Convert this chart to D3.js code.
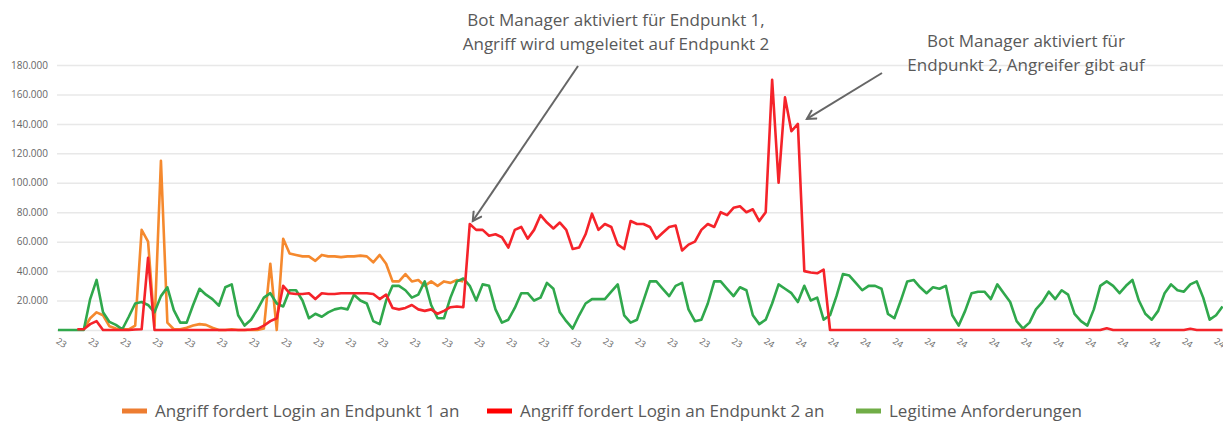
<!DOCTYPE html>
<html>
<head>
<meta charset="utf-8">
<script src="https://cdnjs.cloudflare.com/ajax/libs/d3/7.8.5/d3.min.js"></script>
<style>
  body { margin: 0; background: #fff; }
  text { font-family: "Open Sans", sans-serif; }
</style>
</head>
<body>
<script>
// Werte in Tausend Anfragen, ein Punkt je Messintervall
const angriffEndpunkt1 = [
  null, null, null, null, 0.5, 8, 12, 10, 2.5, 1,
  0.5, 0.5, 3, 68, 60, 3, 115, 5, 0.5, 0.5,
  1.5, 3, 4, 3.5, 1.5, 0, 0, 0.5, 0, 0,
  0, 0, 1, 45, 0, 62, 52, 51, 50, 50,
  47, 51, 50, 50, 49.5, 50, 50, 50.5, 50, 46,
  51, 45, 33, 33, 38, 33, 34, 30, 33, 30,
  33, 32, 34, 33
];

const angriffEndpunkt2 = [
  null, null, null, 0.5, 0.5, 4, 6, 0, 0, 0,
  0, 0, 0.3, 0.5, 49, 0, 0, 0, 0, 0,
  0, 0, 0, 0, 0, 0, 0, 0, 0, 0,
  0.3, 0.8, 3, 6, 8, 30, 25, 24.5, 24.5, 25,
  21, 25, 24.5, 24.5, 25, 25, 25, 25, 25, 24.5,
  21, 24, 15, 14, 15, 17, 14, 13, 14, 11,
  13, 15.5, 16, 15.5, 72, 68, 68, 64, 65, 63,
  56, 68, 70, 62, 68, 78, 73, 69, 73, 68,
  55, 56, 65, 79, 68, 72, 70, 58, 55, 74,
  72, 72, 70, 62, 66, 70, 71, 54, 58, 60,
  68, 72, 70, 80, 78, 83, 84, 80, 82, 74,
  80, 170, 100, 158, 135, 140, 40, 39, 38.5, 41,
  0, 0, 0, 0, 0, 0, 0, 0, 0, 0,
  0, 0, 0, 0, 0, 0, 0, 0, 0, 0,
  0, 0, 0, 0, 0, 0, 0, 0, 0, 0,
  0, 0, 0, 0, 0, 0, 0, 0, 0, 0,
  0, 0, 0, 1.2, 0, 0, 0, 0, 0, 0,
  0, 0, 0, 0, 0, 0, 0.8, 0, 0, 0,
  0, 0
];

const legitim = [
  0, 0, 0, 0, 0, 21, 34, 12, 5.5, 3.5,
  0.5, 9, 18, 19, 17, 12, 23, 29, 13.5, 5,
  5, 17, 28, 24, 21, 16.5, 29, 31, 10, 3,
  7, 14, 22, 25, 18, 16, 27, 27, 20, 8,
  11, 9, 12, 14, 15, 14, 24, 20, 18, 6,
  4, 20, 30, 30, 27, 22, 24, 33, 17, 8,
  8, 22, 33, 35, 30, 20, 31, 30, 14, 5,
  7, 15, 25, 25, 20, 22, 32, 28, 12, 6,
  1, 10, 18, 21, 21, 21, 26, 31, 10, 5,
  7, 20, 33, 33, 28, 23, 30, 32, 14, 6,
  7, 18, 33, 33, 28, 23, 29, 27, 10, 4,
  7, 18, 31, 28, 25, 19, 30, 20, 22, 7,
  10, 23, 38, 37, 32, 27, 30, 30, 28, 11,
  8, 20, 33, 34, 29, 25, 29, 28, 30, 10,
  3, 13, 25, 26, 26, 21, 31, 25, 19, 6,
  1, 5, 14, 19, 26, 21, 27, 24, 11, 6,
  3, 14, 30, 33, 30, 25, 30, 34, 20, 11,
  7, 13, 25, 31, 27, 26, 31, 33, 22, 7,
  10, 16
];

const yTicks = [0, 20, 40, 60, 80, 100, 120, 140, 160, 180];

// Achsenbeschriftungen (im Original kaum lesbar)
const xLabels = [
  "23", "23", "23", "23", "23", "23", "23", "23", "23", "23",
  "23", "23", "23", "23", "23", "23", "23", "23", "23", "23",
  "23", "23", "24", "24", "24", "24", "24", "24", "24", "24",
  "24", "24", "24", "24", "24", "24", "24"
];

const legendNames = [
  "Angriff fordert Login an Endpunkt 1 an",
  "Angriff fordert Login an Endpunkt 2 an",
  "Legitime Anforderungen"
];

const annotation1 = ["Bot Manager aktiviert für Endpunkt 1,", "Angriff wird umgeleitet auf Endpunkt 2"];
const annotation2 = ["Bot Manager aktiviert für", "Endpunkt 2, Angreifer gibt auf"];

//declare width and height
let width = 1223,
    height = 423;

let svg = d3.select("body").append("svg")
    .attr("width", width)
    .attr("height", height);

let x = d3.scaleLinear()
    .domain([0, legitim.length - 1])
    .range([58, 1222.5]);

let y = d3.scaleLinear()
    .domain([0, 180])
    .range([330, 65]);

// y axis with gridlines
let yAxis = svg.append("g")
    .attr("transform", "translate(57,0)")
    .call(d3.axisLeft(y)
        .tickValues(yTicks)
        .tickSize(-1166)
        .tickPadding(9)
        .tickFormat(d => d ? d3.format(",")(d * 1000).replace(/,/g, ".") : ""));
yAxis.select(".domain").remove();
yAxis.selectAll("line")
    .attr("stroke", "#e8e8e8")
    .attr("stroke-width", 1.5);
yAxis.selectAll("text")
    .attr("fill", "#666")
    .attr("font-size", "10px")
    .style("font-family", "Open Sans");

// x axis labels, one every 5 points
let xTickIdx = xLabels.map((d, k) => 0.78 + 5 * k);
let xAxis = svg.append("g")
    .attr("transform", "translate(0,330)")
    .call(d3.axisBottom(x)
        .tickValues(xTickIdx)
        .tickSize(0)
        .tickFormat((d, k) => xLabels[k]));
xAxis.select(".domain").remove();
xAxis.selectAll("text")
    .attr("fill", "#666")
    .attr("font-size", "9px")
    .attr("text-anchor", "start")
    .attr("transform", "translate(-5,8) rotate(32)")
    .attr("dy", "0.3em");

// lines
let line = d3.line()
    .defined(d => d != null)
    .x((d, i) => x(i))
    .y(d => y(d));

let series = [
    { values: angriffEndpunkt1, color: "#f5892e" },
    { values: legitim, color: "#30a84c" },
    { values: angriffEndpunkt2, color: "#f5232a" }
];

svg.selectAll("path.series")
    .data(series)
    .enter()
    .append("path")
    .attr("class", "series")
    .attr("d", d => line(d.values))
    .attr("fill", "none")
    .attr("stroke", d => d.color)
    .attr("stroke-width", 2.6)
    .attr("stroke-linejoin", "round");

// annotations
svg.append("defs").append("marker")
    .attr("id", "arrow")
    .attr("viewBox", "0 0 12 12")
    .attr("refX", 10)
    .attr("refY", 6)
    .attr("markerWidth", 12)
    .attr("markerHeight", 12)
    .attr("markerUnits", "userSpaceOnUse")
    .attr("orient", "auto")
    .append("path")
    .attr("d", "M1,1 L10,6 L1,11")
    .attr("fill", "none")
    .attr("stroke", "#666")
    .attr("stroke-width", 2);

let arrows = [
    { x1: 578, y1: 66, x2: x(64) + 3, y2: y(angriffEndpunkt2[64]) - 3 },
    { x1: 882, y1: 73, x2: x(115) + 9, y2: y(angriffEndpunkt2[115]) - 5 }
];

svg.selectAll("line.arrow")
    .data(arrows)
    .enter()
    .append("line")
    .attr("class", "arrow")
    .attr("x1", d => d.x1)
    .attr("y1", d => d.y1)
    .attr("x2", d => d.x2)
    .attr("y2", d => d.y2)
    .attr("stroke", "#666")
    .attr("stroke-width", 2)
    .attr("marker-end", "url(#arrow)");

let notes = [
    { lines: annotation1, cx: 616, y0: 26 },
    { lines: annotation2, cx: 1026, y0: 47 }
];

notes.forEach(function (n) {
    let t = svg.append("text")
        .attr("text-anchor", "middle")
        .attr("font-size", "17px")
        .attr("fill", "#595959");
    n.lines.forEach(function (s, k) {
        t.append("tspan")
            .attr("x", n.cx)
            .attr("y", n.y0 + k * 24)
            .text(s);
    });
});

// legend
let legendColors = ["#ed7d31", "#ff0000", "#70ad47"];
let legendX = [122, 487, 856];

let legend = svg.selectAll("g.legend")
    .data(legendNames)
    .enter()
    .append("g")
    .attr("class", "legend")
    .attr("transform", (d, i) => "translate(" + legendX[i] + ",411)");

legend.append("rect")
    .attr("x", 0)
    .attr("y", -2.5)
    .attr("width", 25)
    .attr("height", 5)
    .attr("fill", (d, i) => legendColors[i]);

legend.append("text")
    .attr("x", 33)
    .attr("y", 6)
    .attr("font-size", "17px")
    .attr("fill", "#595959")
    .text(d => d);
</script>
</body>
</html>
